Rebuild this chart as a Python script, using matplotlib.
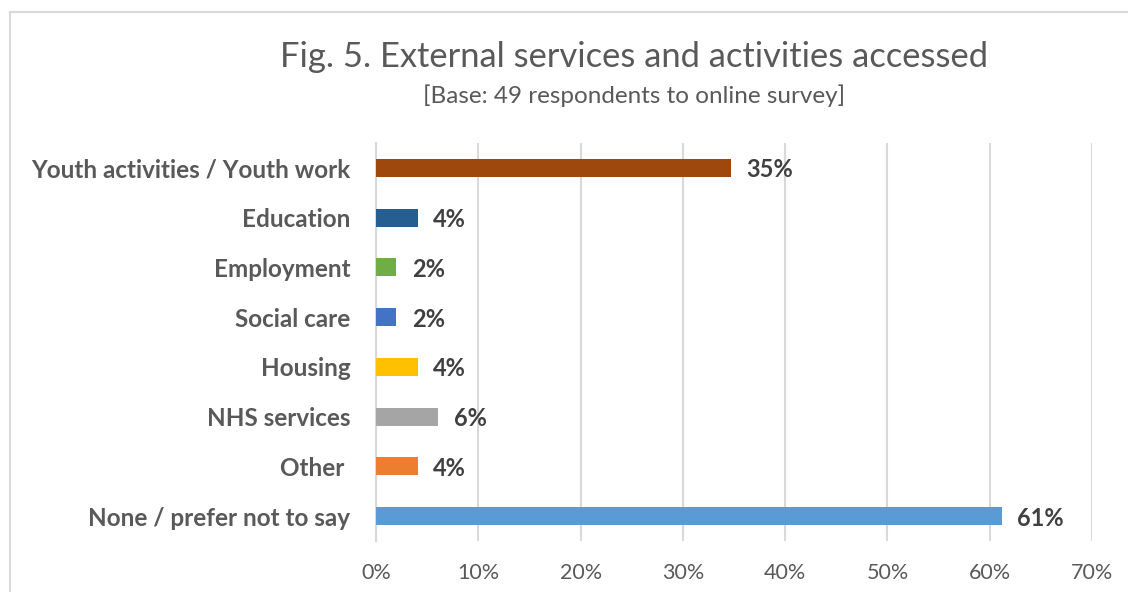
import matplotlib.pyplot as plt
from matplotlib.ticker import FuncFormatter

plt.rcParams["font.family"] = ["Lato", "DejaVu Sans"]

categories = [
    "Youth activities / Youth work",
    "Education",
    "Employment",
    "Social care",
    "Housing",
    "NHS services",
    "Other ",
    "None / prefer not to say",
]
# share of 49 respondents, in percent
shares = [34.7, 4.1, 2.0, 2.0, 4.1, 6.1, 4.1, 61.2]
bar_colors = ["#9E480E", "#255E91", "#70AD47", "#4472C4",
              "#FFC000", "#A5A5A5", "#ED7D31", "#5B9BD5"]
x_ticks = [0, 10, 20, 30, 40, 50, 60, 70]

fig = plt.figure(figsize=(11.28, 5.92), dpi=100)
ax = fig.add_axes([376 / 1128, 1 - 541 / 592, (1092 - 376) / 1128, (541 - 143) / 592])

y = range(len(categories))
ax.barh(y, shares, height=0.36, color=bar_colors, zorder=3)

for i, v in enumerate(shares):
    ax.text(v + 1.5, i + 0.04, f"{v:.0f}%", va="center", ha="left",
            fontsize=17, fontweight="bold", color="#404040")

ax.set_ylim(len(categories) - 0.5, -0.5)
ax.set_xlim(0, 70)
ax.set_xticks(x_ticks)
ax.xaxis.set_major_formatter(FuncFormatter(lambda v, p: f"{v:.0f}%"))
ax.set_yticks(list(y))
ax.set_yticklabels(categories, fontsize=17.5, fontweight="bold", color="#595959")
ax.tick_params(axis="y", length=0, pad=18.5)
ax.tick_params(axis="x", length=0, pad=16, labelsize=15.5, labelcolor="#595959")

ax.grid(axis="x", color="#D9D9D9", linewidth=1.5, zorder=0)
for side in ["top", "right", "bottom"]:
    ax.spines[side].set_visible(False)
ax.spines["left"].set_color("#D9D9D9")
ax.spines["left"].set_linewidth(1.5)

fig.text(634 / 1128, 1 - 57 / 592, "Fig. 5. External services and activities accessed",
         ha="center", va="center", fontsize=24.8, color="#595959")
fig.text(634 / 1128, 1 - 96 / 592, "[Base: 49 respondents to online survey]",
         ha="center", va="center", fontsize=17.5, color="#595959")

# chart frame
frame = plt.Rectangle((10 / 1128, -0.1), 1.2, 1 - 12 / 592 + 0.1,
                      transform=fig.transFigure, fill=False,
                      edgecolor="#D9D9D9", linewidth=1.5)
fig.add_artist(frame)

fig.savefig("out.png", dpi=100)
